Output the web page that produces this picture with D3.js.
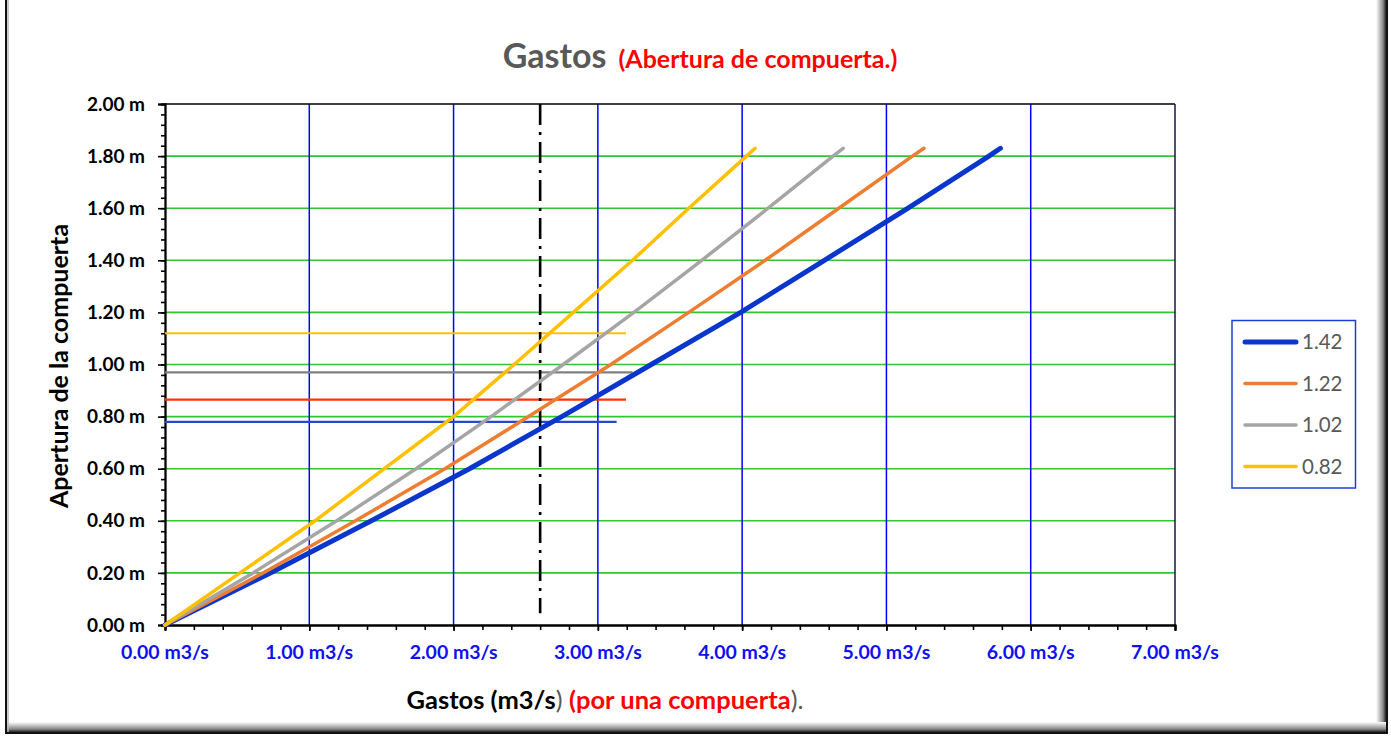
<!DOCTYPE html>
<html>
<head>
<meta charset="utf-8">
<script src="https://cdn.jsdelivr.net/npm/d3@7"></script>
<style>
  html, body { margin: 0; padding: 0; background: #ffffff; }
  svg { display: block; }
  text { font-family: Lato, "Open Sans", "Noto Sans", sans-serif; }
</style>
</head>
<body>
<svg id="chart" width="1391" height="736"></svg>
<script>
// Gate opening (m) at which each discharge was computed
const aperturas = [0, 0.2, 0.4, 0.6, 0.8, 1.0, 1.2, 1.4, 1.6, 1.8, 1.83];

// Discharge per gate (m3/s) for each head series
const gasto142 = [0, 0.73, 1.43, 2.11, 2.75, 3.37, 3.99, 4.57, 5.15, 5.71, 5.79];
const gasto122 = [0, 0.68, 1.32, 1.94, 2.52, 3.09, 3.63, 4.16, 4.67, 5.18, 5.26];
const gasto102 = [0, 0.61, 1.19, 1.74, 2.26, 2.76, 3.25, 3.72, 4.18, 4.63, 4.70];
const gasto082 = [0, 0.52, 1.04, 1.52, 2.00, 2.42, 2.83, 3.24, 3.63, 4.03, 4.09];

const serieNombres = ["1.42", "1.22", "1.02", "0.82"];
const serieColores = ["#0a36cc", "#ed7d31", "#a5a5a5", "#ffc000"];
const serieAnchos = [5, 3.5, 3.5, 3.5];

// Operating opening marks (horizontal) and the design discharge (vertical)
const aperturaOperacion = [0.78, 0.865, 0.97, 1.12];
const gastoLimite = [3.13, 3.195, 3.24, 3.195];
const operacionColores = ["#2447d6", "#ff3300", "#808080", "#ffc000"];
const gastoDiseno = 2.6;

// Axis ticks
const ticksX = [0, 1, 2, 3, 4, 5, 6, 7];
const ticksY = [0, 0.2, 0.4, 0.6, 0.8, 1.0, 1.2, 1.4, 1.6, 1.8, 2.0];

const svg = d3.select("#chart");
const W = 1391, H = 736;

// Outer frame with a soft shadow on the right and bottom
const defs = svg.append("defs");
const gR = defs.append("linearGradient").attr("id", "sombraDer").attr("x1", 0).attr("x2", 1).attr("y1", 0).attr("y2", 0);
gR.append("stop").attr("offset", "0%").attr("stop-color", "#ffffff");
gR.append("stop").attr("offset", "70%").attr("stop-color", "#8a8a8a");
gR.append("stop").attr("offset", "100%").attr("stop-color", "#222222");
const gB = defs.append("linearGradient").attr("id", "sombraInf").attr("x1", 0).attr("x2", 0).attr("y1", 0).attr("y2", 1);
gB.append("stop").attr("offset", "0%").attr("stop-color", "#ffffff");
gB.append("stop").attr("offset", "70%").attr("stop-color", "#8a8a8a");
gB.append("stop").attr("offset", "100%").attr("stop-color", "#222222");

svg.append("rect").attr("x", 0).attr("y", 0).attr("width", W).attr("height", H).attr("fill", "#ffffff");
svg.append("rect").attr("x", 1376).attr("y", 0).attr("width", 10).attr("height", 733).attr("fill", "url(#sombraDer)");
svg.append("rect").attr("x", 6).attr("y", 722).attr("width", 1380).attr("height", 10).attr("fill", "url(#sombraInf)");
svg.append("line").attr("x1", 1387).attr("x2", 1387).attr("y1", 0).attr("y2", 734).attr("stroke", "#111").attr("stroke-width", 2);
svg.append("line").attr("x1", 6).attr("x2", 1388).attr("y1", 733).attr("y2", 733).attr("stroke", "#111").attr("stroke-width", 2);
svg.append("line").attr("x1", 6).attr("x2", 6).attr("y1", 0).attr("y2", 734).attr("stroke", "#111").attr("stroke-width", 2);
svg.append("line").attr("x1", 8).attr("x2", 8).attr("y1", 0).attr("y2", 732).attr("stroke", "#bbb").attr("stroke-width", 1.5);

// Plot area
const x = d3.scaleLinear().domain([0, 7]).range([165, 1175]);
const y = d3.scaleLinear().domain([0, 2]).range([625, 104]);

// Gridlines
svg.append("g").selectAll("line").data(ticksY.filter(v => v > 0 && v < 2)).join("line")
  .attr("x1", x(0)).attr("x2", x(7)).attr("y1", d => y(d)).attr("y2", d => y(d))
  .attr("stroke", "#33c433").attr("stroke-width", 1.6);
svg.append("g").selectAll("line").data(ticksX.filter(v => v > 0 && v < 7)).join("line")
  .attr("x1", d => x(d)).attr("x2", d => x(d)).attr("y1", y(0)).attr("y2", y(2))
  .attr("stroke", "#0000ff").attr("stroke-width", 1.5);

// Plot border (top and right)
svg.append("line").attr("x1", x(0)).attr("x2", x(7)).attr("y1", y(2)).attr("y2", y(2)).attr("stroke", "#000").attr("stroke-width", 1.6);
svg.append("line").attr("x1", x(7)).attr("x2", x(7)).attr("y1", y(2)).attr("y2", y(0)).attr("stroke", "#14144a").attr("stroke-width", 1.5);

// Axes with minor ticks
const axisY = svg.append("g").attr("transform", `translate(${x(0)},0)`)
  .call(d3.axisLeft(y).tickValues(d3.range(0, 2.0001, 0.04)).tickSize(4).tickFormat(""));
const axisYMaj = svg.append("g").attr("transform", `translate(${x(0)},0)`)
  .call(d3.axisLeft(y).tickValues(ticksY).tickSize(7).tickFormat(""));
const axisX = svg.append("g").attr("transform", `translate(0,${y(0)})`)
  .call(d3.axisBottom(x).tickValues(d3.range(0, 7.0001, 0.2)).tickSize(5).tickFormat(""));
const axisXMaj = svg.append("g").attr("transform", `translate(0,${y(0)})`)
  .call(d3.axisBottom(x).tickValues(ticksX).tickSize(6).tickFormat(""));
[axisY, axisYMaj, axisX, axisXMaj].forEach(g => {
  g.selectAll(".domain").attr("stroke", "#000").attr("stroke-width", 1.8);
  g.selectAll(".tick line").attr("stroke", "#000").attr("stroke-width", 1.6);
});

// Tick labels
svg.append("g").selectAll("text").data(ticksY).join("text")
  .attr("x", 145).attr("y", d => y(d)).attr("dy", "0.35em").attr("text-anchor", "end")
  .attr("font-size", 19).attr("font-weight", "bold").attr("fill", "#000")
  .text(d => d.toFixed(2) + " m");
svg.append("g").selectAll("text").data(ticksX).join("text")
  .attr("x", d => x(d)).attr("y", 659).attr("text-anchor", "middle")
  .attr("font-size", 19.5).attr("font-weight", "bold").attr("fill", "#1010f0")
  .text(d => d.toFixed(2) + " m3/s");

// Operating opening lines
svg.append("g").selectAll("line").data(aperturaOperacion).join("line")
  .attr("x1", x(0)).attr("x2", (d, i) => x(gastoLimite[i]))
  .attr("y1", d => y(d)).attr("y2", d => y(d))
  .attr("stroke", (d, i) => operacionColores[i]).attr("stroke-width", 2.2);

// Design discharge (dash-dot)
svg.append("line").attr("x1", x(gastoDiseno)).attr("x2", x(gastoDiseno))
  .attr("y1", y(2.0)).attr("y2", y(0.045))
  .attr("stroke", "#000").attr("stroke-width", 2.6).attr("stroke-dasharray", "21,7,3,7");

// Discharge curves
const series = [gasto142, gasto122, gasto102, gasto082];
const linea = d3.line().x(d => x(d[0])).y(d => y(d[1]));
series.forEach((q, i) => {
  svg.append("path")
    .datum(q.map((v, k) => [v, aperturas[k]]))
    .attr("d", linea).attr("fill", "none")
    .attr("stroke", serieColores[i]).attr("stroke-width", serieAnchos[i])
    .attr("stroke-linecap", "round").attr("stroke-linejoin", "round");
});

// Legend
const leg = svg.append("g");
leg.append("rect").attr("x", 1232).attr("y", 320.5).attr("width", 123.5).attr("height", 167.5)
  .attr("fill", "#fff").attr("stroke", "#1a3fd8").attr("stroke-width", 1.5);
serieNombres.forEach((n, i) => {
  const yy = 342 + i * 41.5;
  leg.append("line").attr("x1", 1245).attr("x2", 1296).attr("y1", yy).attr("y2", yy)
    .attr("stroke", serieColores[i]).attr("stroke-width", serieAnchos[i]).attr("stroke-linecap", "round");
  leg.append("text").attr("x", 1302).attr("y", yy).attr("dy", "0.35em")
    .attr("font-size", 20.5).attr("fill", "#595959").text(n);
});

// Title
const titulo = svg.append("text").attr("x", 700).attr("y", 68).attr("text-anchor", "middle");
titulo.append("tspan").attr("font-size", 34).attr("font-weight", "bold").attr("fill", "#595959").text("Gastos");
titulo.append("tspan").attr("font-size", 25).attr("font-weight", "bold").attr("fill", "#ff0000").attr("dx", 12).text("(Abertura de compuerta.)");

// Axis titles
svg.append("text").attr("transform", "translate(68,366) rotate(-90)").attr("text-anchor", "middle")
  .attr("font-size", 25).attr("font-weight", "bold").attr("fill", "#000").text("Apertura de la compuerta");

const tx = svg.append("text").attr("x", 605).attr("y", 709).attr("text-anchor", "middle").attr("font-size", 25.5);
tx.append("tspan").attr("font-weight", "bold").attr("fill", "#000").text("Gastos (m3/s");
tx.append("tspan").attr("fill", "#595959").text(") ");
tx.append("tspan").attr("font-weight", "bold").attr("fill", "#ff0000").text("(por una compuerta");
tx.append("tspan").attr("fill", "#595959").text(").");
</script>
</body>
</html>
